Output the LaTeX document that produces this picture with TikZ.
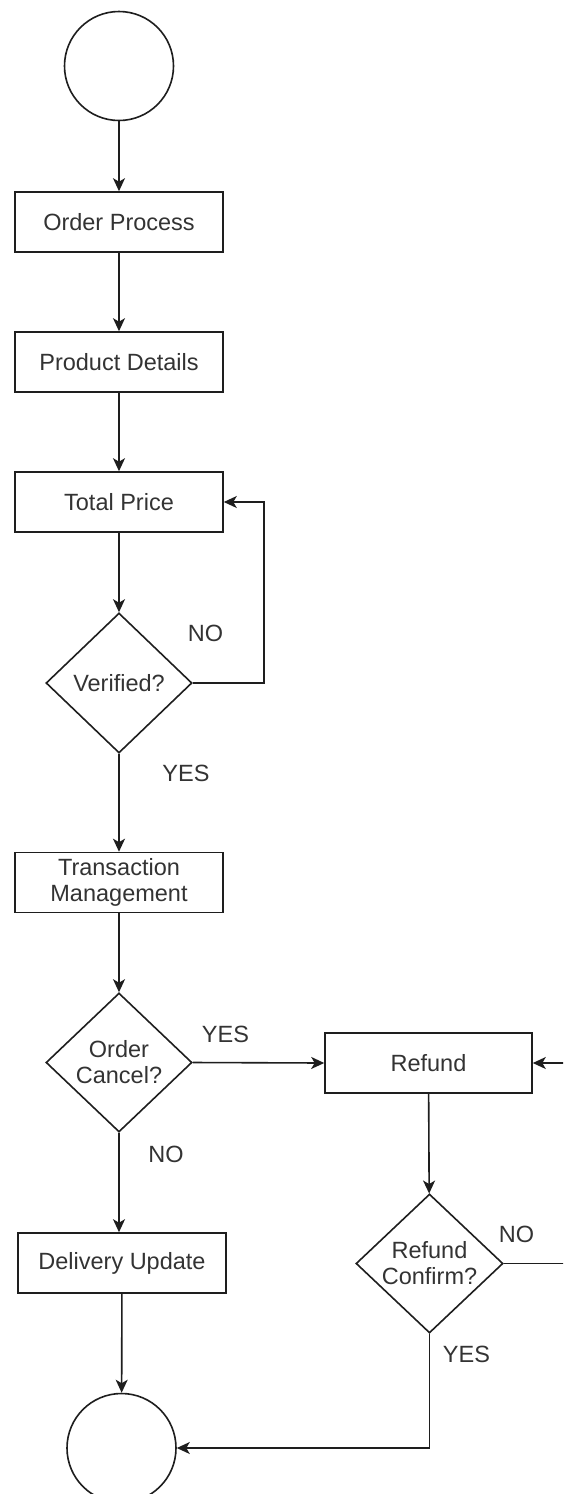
\documentclass[tikz,border=0pt]{standalone}
\usepackage{fontspec}
\setmainfont{Liberation Sans}
\usetikzlibrary{arrows.meta,shapes.geometric}
\definecolor{ink}{HTML}{1E1E1E}
\definecolor{txt}{HTML}{333333}
\begin{document}
\begin{tikzpicture}[x=1pt,y=-1pt,
  every node/.style={font=\fontsize{23.5}{27}\selectfont, text=txt},
  box/.style={draw=ink, line width=1.6pt, rectangle, minimum width=208, minimum height=60, inner sep=0pt, align=center},
  term/.style={draw=ink, line width=1.6pt, circle, minimum size=109, inner sep=0pt},
  decide/.style={draw=ink, line width=1.6pt, diamond, inner sep=-14pt, align=center},
  flow/.style={draw=ink, line width=1.6pt, -{Stealth[length=13pt,width=12pt,inset=3.5pt]}},
  lbl/.style={inner sep=0pt}]
\useasboundingbox (0,0) rectangle (563,1494);
\clip (0,0) rectangle (563,1494);
\fill[white] (0,0) rectangle (563,1494);

% main column
\node[term] (start) at (119,66) {};
\node[box] (order) at (119,222) {Order Process};
\node[box] (product) at (119,362) {Product Details};
\node[box] (price) at (119,502) {Total Price};
\node[decide, minimum width=146, minimum height=140] (verified) at (119,683) {Verified?};
\node[box] (trans) at (119,882.5) {Transaction\\[-1pt]Management};
\node[decide, minimum width=146, minimum height=139] (cancel) at (119,1062.5) {Order\\[-1pt]Cancel?};
\node[box] (delivery) at (122,1263) {Delivery Update};
\node[term] (finish) at (121.5,1448) {};

% refund branch
\node[box, minimum width=207] (refund) at (428.5,1063) {Refund};
\node[decide, minimum width=147, minimum height=139] (confirm) at (429.5,1263.5) {Refund\\[-1pt]Confirm?};

% corner points of the routed connectors
\coordinate (vloop) at (264,683);
\coordinate (vtop) at (264,502);
\coordinate (rloopa) at (590,1263.5);
\coordinate (rloopb) at (590,1063);
\coordinate (ycorner) at (429.5,1448);

% connectors
\draw[flow] (start) -- (order);
\draw[flow] (order) -- (product);
\draw[flow] (product) -- (price);
\draw[flow] (price) -- (verified);
\draw[flow] (verified.east) -- (vloop) -- (vtop) -- (price.east);
\draw[flow] (verified) -- (trans);
\draw[flow] (trans) -- (cancel);
\draw[flow] (cancel.east) -- (refund.west);
\draw[flow] (cancel) -- (delivery.north -| cancel.south);
\draw[flow] (delivery) -- (finish);
\draw[flow] (refund) -- (confirm);
\draw[flow] (confirm.east) -- (rloopa) -- (rloopb) -- (refund.east);
\draw[flow] (confirm.south) -- (ycorner) -- (finish.east);

% branch labels
\node[lbl] (l1) at (205.5,633) {NO};
\node[lbl] (l2) at (186,773.5) {YES};
\node[lbl] (l3) at (225.5,1034) {YES};
\node[lbl] (l4) at (166,1154) {NO};
\node[lbl] (l5) at (516.5,1234) {NO};
\node[lbl] (l6) at (466.5,1354) {YES};
\end{tikzpicture}
\end{document}
